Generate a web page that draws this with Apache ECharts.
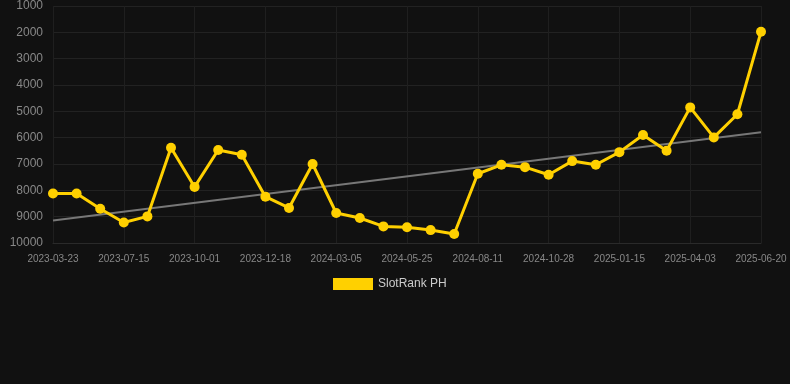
<!DOCTYPE html>
<html>
<head>
<meta charset="utf-8">
<script src="https://cdn.jsdelivr.net/npm/echarts@6/dist/echarts.min.js"></script>
<style>
html,body{margin:0;padding:0;background:#111111;}
#chart{width:790px;height:384px;}
</style>
</head>
<body>
<div id="chart"></div>
<script>
const dates = [
  "2023-03-23","2023-05-01","2023-06-08","2023-07-15","2023-08-10","2023-09-05",
  "2023-10-01","2023-10-27","2023-11-22","2023-12-18","2024-01-13","2024-02-08",
  "2024-03-05","2024-03-31","2024-04-28","2024-05-25","2024-06-20","2024-07-16",
  "2024-08-11","2024-09-06","2024-10-02","2024-10-28","2024-11-23","2024-12-20",
  "2025-01-15","2025-02-10","2025-03-08","2025-04-03","2025-04-29","2025-05-25",
  "2025-06-20"
];
const ranks = [
  8120, 8120, 8700, 9220, 8990, 6380,
  7870, 6470, 6650, 8240, 8670, 7000,
  8860, 9050, 9370, 9400, 9510, 9660,
  7370, 7030, 7120, 7410, 6890, 7030,
  6550, 5900, 6500, 4850, 5990, 5110,
  1980
];
const trendStartEnd = [9150, 5790];
const seriesName = "SlotRank PH";

const chart = echarts.init(document.getElementById('chart'));
chart.setOption({
  backgroundColor: '#111111',
  animation: false,
  grid: { left: 53, right: 29, top: 6, height: 237 },
  legend: {
    data: [seriesName],
    top: 273,
    left: 328,
    itemWidth: 40,
    itemHeight: 12,
    icon: 'rect',
    textStyle: { color: '#cccccc', fontSize: 12, fontFamily: 'Liberation Sans, Arial, sans-serif' }
  },
  xAxis: {
    type: 'category',
    data: dates,
    boundaryGap: false,
    axisLine: { lineStyle: { color: '#2a2a2a' } },
    axisTick: { show: false },
    axisLabel: { color: '#888888', fontSize: 10, interval: 2, margin: 11, fontFamily: 'Liberation Sans, Arial, sans-serif' },
    splitLine: { show: true, interval: 2, lineStyle: { color: '#1f1f1f' } }
  },
  yAxis: {
    type: 'value',
    inverse: true,
    min: 1000,
    max: 10000,
    interval: 1000,
    axisLine: { show: false },
    axisTick: { show: false },
    axisLabel: { color: '#888888', fontSize: 12, margin: 10, formatter: v => String(v), fontFamily: 'Liberation Sans, Arial, sans-serif' },
    splitLine: { lineStyle: { color: '#222222' } }
  },
  series: [
    {
      name: seriesName,
      type: 'line',
      data: ranks,
      symbol: 'circle',
      symbolSize: 10,
      lineStyle: { color: '#FFD000', width: 3 },
      itemStyle: { color: '#FFD000' },
      z: 3
    },
    {
      name: 'trend',
      type: 'line',
      data: [[0, trendStartEnd[0]], [dates.length - 1, trendStartEnd[1]]],
      symbol: 'none',
      lineStyle: { color: '#777777', width: 2 },
      z: 2
    }
  ]
});
</script>
</body>
</html>
